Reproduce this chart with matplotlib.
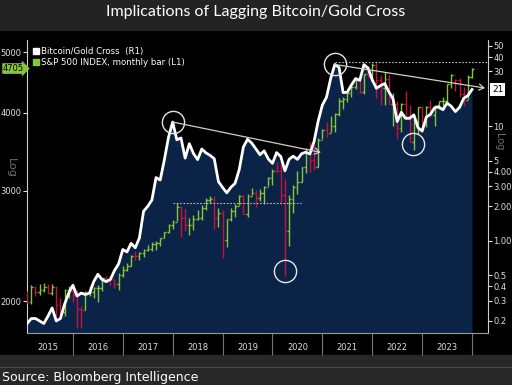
import matplotlib
import numpy as np

matplotlib.use("Agg")
import matplotlib.pyplot as plt  # noqa: E402
from matplotlib.lines import Line2D  # noqa: E402
from matplotlib.patches import Rectangle  # noqa: E402

# -- Data (monthly, Jan 2015 .. Dec 2023) ---------------------------------
years = [2015, 2016, 2017, 2018, 2019, 2020, 2021, 2022, 2023]

spx_open = [2059, 1995, 2105, 2068, 2086, 2107, 2063, 2104, 1972, 1920, 2079, 2080,
            2044, 1940, 1932, 2060, 2065, 2097, 2099, 2174, 2171, 2168, 2126, 2199,
            2239, 2279, 2364, 2363, 2384, 2412, 2423, 2470, 2472, 2519, 2575, 2648,
            2674, 2824, 2714, 2641, 2648, 2705, 2718, 2816, 2902, 2914, 2712, 2760,
            2507, 2704, 2784, 2834, 2946, 2752, 2942, 2980, 2926, 2977, 3038, 3141,
            3231, 3226, 2954, 2585, 2912, 3044, 3100, 3271, 3500, 3363, 3270, 3622,
            3756, 3714, 3811, 3973, 4181, 4204, 4298, 4395, 4523, 4308, 4605, 4567,
            4766, 4516, 4374, 4530, 4132, 4132, 3785, 4130, 3955, 3586, 3872, 4080,
            3840, 4077, 3970, 4109, 4169, 4180, 4450, 4589, 4508, 4288, 4194, 4568]
spx_high = [2072, 2120, 2115, 2126, 2135, 2130, 2133, 2113, 2021, 2094, 2117, 2105,
            2081, 1962, 2073, 2111, 2104, 2120, 2178, 2194, 2188, 2169, 2214, 2278,
            2301, 2371, 2401, 2398, 2419, 2454, 2484, 2491, 2520, 2582, 2657, 2695,
            2873, 2835, 2801, 2717, 2742, 2791, 2848, 2917, 2941, 2940, 2815, 2800,
            2708, 2814, 2860, 2949, 2955, 2964, 3028, 3014, 3022, 3050, 3154, 3248,
            3338, 3394, 3136, 2955, 3068, 3233, 3280, 3515, 3588, 3550, 3646, 3760,
            3870, 3950, 3994, 4218, 4238, 4302, 4429, 4537, 4546, 4608, 4743, 4808,
            4819, 4595, 4637, 4593, 4307, 4177, 4140, 4325, 4120, 3905, 4080, 4101,
            4095, 4195, 4079, 4170, 4232, 4449, 4608, 4531, 4541, 4393, 4587, 4710]
spx_low = [1988, 1980, 2040, 2048, 2068, 2057, 2045, 1867, 1872, 1893, 2020, 1993,
           1812, 1810, 1937, 2034, 2026, 1992, 2075, 2147, 2120, 2098, 2084, 2187,
           2233, 2271, 2322, 2328, 2353, 2405, 2407, 2417, 2446, 2520, 2566, 2605,
           2682, 2533, 2586, 2553, 2594, 2698, 2699, 2796, 2864, 2604, 2631, 2347,
           2444, 2681, 2722, 2848, 2750, 2729, 2952, 2822, 2892, 2856, 3050, 3070,
           3214, 2855, 2192, 2447, 2766, 2966, 3101, 3205, 3210, 3234, 3280, 3633,
           3662, 3725, 3724, 3955, 4057, 4165, 4234, 4367, 4306, 4279, 4560, 4495,
           4222, 4115, 4115, 4124, 3811, 3637, 3721, 3955, 3584, 3492, 3699, 3765,
           3795, 3943, 3809, 4049, 4048, 4167, 4385, 4336, 4238, 4104, 4201, 4546]
spx_close = [1995, 2105, 2068, 2086, 2107, 2063, 2104, 1972, 1920, 2079, 2080, 2044,
             1940, 1932, 2060, 2065, 2097, 2099, 2174, 2171, 2168, 2126, 2199, 2239,
             2279, 2364, 2363, 2384, 2412, 2423, 2470, 2472, 2519, 2575, 2648, 2674,
             2824, 2714, 2641, 2648, 2705, 2718, 2816, 2902, 2914, 2712, 2760, 2507,
             2704, 2784, 2834, 2946, 2752, 2942, 2980, 2926, 2977, 3038, 3141, 3231,
             3226, 2954, 2585, 2912, 3044, 3100, 3271, 3500, 3363, 3270, 3622, 3756,
             3714, 3811, 3973, 4181, 4204, 4298, 4395, 4523, 4308, 4605, 4567, 4766,
             4516, 4374, 4530, 4132, 4132, 3785, 4130, 3955, 3586, 3872, 4080, 3840,
             4077, 3970, 4109, 4169, 4180, 4450, 4589, 4508, 4288, 4194, 4568, 4705]

btc_gold = [0.19, 0.21, 0.21, 0.20, 0.19, 0.22, 0.26, 0.20, 0.21, 0.28, 0.35, 0.41,
            0.33, 0.35, 0.34, 0.35, 0.44, 0.51, 0.46, 0.44, 0.46, 0.55, 0.63, 0.84,
            0.80, 0.95, 0.87, 1.06, 1.81, 2.00, 2.27, 3.56, 3.39, 5.09, 8.02, 10.86,
            7.60, 7.89, 5.26, 7.03, 5.77, 5.11, 6.32, 5.85, 5.56, 5.20, 3.29, 2.92,
            2.62, 2.93, 3.17, 4.17, 6.57, 7.68, 7.13, 6.34, 5.63, 6.09, 5.17, 4.74,
            5.88, 5.43, 4.08, 5.14, 5.47, 5.13, 5.75, 5.93, 5.72, 7.34, 11.09, 15.28,
            17.9, 26.0, 34.5, 32.6, 19.6, 19.8, 22.9, 26.0, 25.1, 34.4, 32.1, 25.3,
            21.4, 22.6, 23.5, 19.9, 17.3, 10.96, 13.2, 11.7, 11.7, 12.55, 9.72, 9.05,
            12.0, 12.7, 14.5, 14.7, 13.9, 15.9, 14.9, 13.4, 14.6, 17.5, 18.5, 20.9]

left_ticks = [2000, 3000, 4000, 5000]
right_ticks = [0.2, 0.3, 0.4, 0.5, 1, 2, 3, 4, 5, 10, 30, 40, 50]
right_labels = ["0.2", "0.3", "0.4", "0.5", "1.00", "2.00", "3.00", "4.00",
                "5", "10", "30", "40", "50"]

# months used for the annotations
i_peak17, i_low20, i_peak21, i_low22, i_high22 = 35, 62, 74, 93, 84

GREEN = "#86c440"
RED = "#c3123f"
NAVY = "#0b2346"
W, H = 512, 385

# month-end position on a decimal year axis
x = 2015 + (np.arange(len(spx_close)) + 1) / 12.0
o, hi, lo, c = map(np.array, (spx_open, spx_high, spx_low, spx_close))

fig = plt.figure(figsize=(W / 100, H / 100), dpi=100, facecolor="black")
fig.add_artist(Rectangle((0, 1 - 30 / H), 1, 30 / H, transform=fig.transFigure,
                         color="#232323", zorder=0))
fig.add_artist(Rectangle((0, 0), 1, 30 / H, transform=fig.transFigure,
                         color="#282828", zorder=0))
fig.add_artist(Line2D([0, 1], [18 / H, 18 / H], transform=fig.transFigure,
                      color="#4a4a4a", lw=0.8))

ax = fig.add_axes([27 / W, 1 - 333 / H, 461 / W, 293 / H])
ax2 = ax.twinx()
ax.set_zorder(2)
ax.patch.set_visible(False)
ax2.set_zorder(1)

# Bitcoin/Gold on the right log axis, filled area underneath
ax2.fill_between(x, btc_gold, 0.05, color=NAVY, lw=0)
ax.plot(x, btc_gold, color="white", lw=2.0, transform=ax2.transData,
        zorder=5, solid_joinstyle="round")

# S&P 500 monthly OHLC bars on the left log axis
farben = np.where(c >= o, GREEN, RED)
ax.vlines(x, lo, hi, colors=farben, lw=1.0, zorder=3)
ax.hlines(o, x - 0.035, x, colors=farben, lw=1.0, zorder=3)
ax.hlines(c, x, x + 0.035, colors=farben, lw=1.0, zorder=3)

ax.set_xlim(2015.08, 2024.32)
ax.set_yscale("log")
ax.set_ylim(1778, 5226)
ax2.set_yscale("log")
ax2.set_ylim(0.157, 56.4)

# annotations: circles, trend lines, old-high lines
ring = dict(marker="o", ms=16, mfc="none", mec="#e6e6e6", mew=1.0, ls="none", zorder=6)
ax.plot(x[i_peak17], btc_gold[i_peak17], transform=ax2.transData, **ring)
ax.plot(x[i_peak21], btc_gold[i_peak21], transform=ax2.transData, **ring)
ax.plot(x[i_low20], lo[i_low20] * 1.02, **ring)
ax.plot(x[i_low22] - 0.02, lo[i_low22] * 1.02, **ring)

pfeil = dict(arrowstyle="->,head_length=0.35,head_width=0.22", color="#cfcfcf",
             lw=0.9, shrinkA=0, shrinkB=0)
ax.annotate("", xy=(2020.97, 5.9), xytext=(x[i_peak17], btc_gold[i_peak17]),
            xycoords=ax2.transData, textcoords=ax2.transData, arrowprops=pfeil, zorder=6)
ax.annotate("", xy=(2024.26, 21.5), xytext=(x[i_peak21], btc_gold[i_peak21]),
            xycoords=ax2.transData, textcoords=ax2.transData, arrowprops=pfeil, zorder=6)

ax.hlines(hi[36], x[i_peak17], 2020.58, colors="#bdbdbd", lw=0.8,
          linestyles=(0, (1.5, 1.5)), zorder=4)
ax.hlines(hi[i_high22], x[i_peak21], 2024.32, colors="#bdbdbd", lw=0.8,
          linestyles=(0, (1.5, 1.5)), zorder=4)

# axes styling
for s in ("top", "right"):
    ax.spines[s].set_visible(False)
for s in ("top", "left", "bottom"):
    ax2.spines[s].set_visible(False)
ax.spines["left"].set_color("#cfcfcf")
ax.spines["bottom"].set_color("#9a9a9a")
ax2.spines["right"].set_color("#cfcfcf")

ax.set_yticks(left_ticks)
ax.set_yticklabels([str(t) for t in left_ticks])
ax.yaxis.set_minor_locator(matplotlib.ticker.NullLocator())
ax.tick_params(axis="y", colors="#e0e0e0", labelsize=6, length=3, width=0.8, pad=1)
ax2.set_yticks(right_ticks)
ax2.set_yticklabels(right_labels)
ax2.yaxis.set_minor_locator(matplotlib.ticker.NullLocator())
ax2.tick_params(axis="y", colors="#e0e0e0", labelsize=6, length=3, width=0.8, pad=1)

ax.set_xticks([j + 0.5 for j in years])
ax.set_xticklabels([str(j) for j in years])
ax.set_xticks(range(2016, 2025), minor=True)
ax.tick_params(axis="x", which="major", length=0, pad=7.5, labelsize=6,
               labelcolor="#dddddd")
ax.tick_params(axis="x", which="minor", length=16, width=0.8, color="#777777")

# legend
handles = [Line2D([], [], marker="s", ms=5, ls="none", color="white"),
           Line2D([], [], marker="s", ms=5, ls="none", color=GREEN)]
ax.legend(handles, ["Bitcoin/Gold Cross  (R1)", "S&P 500 INDEX, monthly bar (L1)"],
          loc="upper left", bbox_to_anchor=(0.012, 0.975), frameon=False,
          fontsize=6.2, labelcolor="white", handlelength=0.7, handletextpad=0.3,
          borderaxespad=0, borderpad=0, labelspacing=0.25)

# last value tags
ax.annotate(f"{spx_close[-1]:.0f}", xy=(0, spx_close[-1]), xycoords=("axes fraction", "data"),
            xytext=(-2, 0), textcoords="offset points", ha="right", va="center",
            fontsize=6, color="black", annotation_clip=False,
            bbox=dict(boxstyle="rarrow,pad=0.1", fc=GREEN, ec="none"))
ax2.annotate(f"{btc_gold[-1]:.0f}", xy=(1, btc_gold[-1]), xycoords=("axes fraction", "data"),
             xytext=(3, 0), textcoords="offset points", ha="left", va="center",
             fontsize=6.5, color="black", annotation_clip=False,
             bbox=dict(boxstyle="square,pad=0.2", fc="white", ec="none"))

# faint axis-scale hints, kept clear of the tick labels
fig.text(11 / W, 1 - 168 / H, "Log", rotation=270, color="#6e6e6e", fontsize=8,
         ha="center", va="center")
fig.text(499 / W, 1 - 142 / H, "Log", rotation=270, color="#6e6e6e", fontsize=7,
         ha="center", va="center")

fig.text(0.5, 1 - 12 / H, "Implications of Lagging Bitcoin/Gold Cross", ha="center",
         va="center", color="white", fontsize=11.5, family="Lato")
fig.text(2 / W, 1 - 377 / H, "Source: Bloomberg Intelligence", ha="left", va="center",
         color="white", fontsize=9)

fig.savefig("out.png", dpi=100, facecolor=fig.get_facecolor())
